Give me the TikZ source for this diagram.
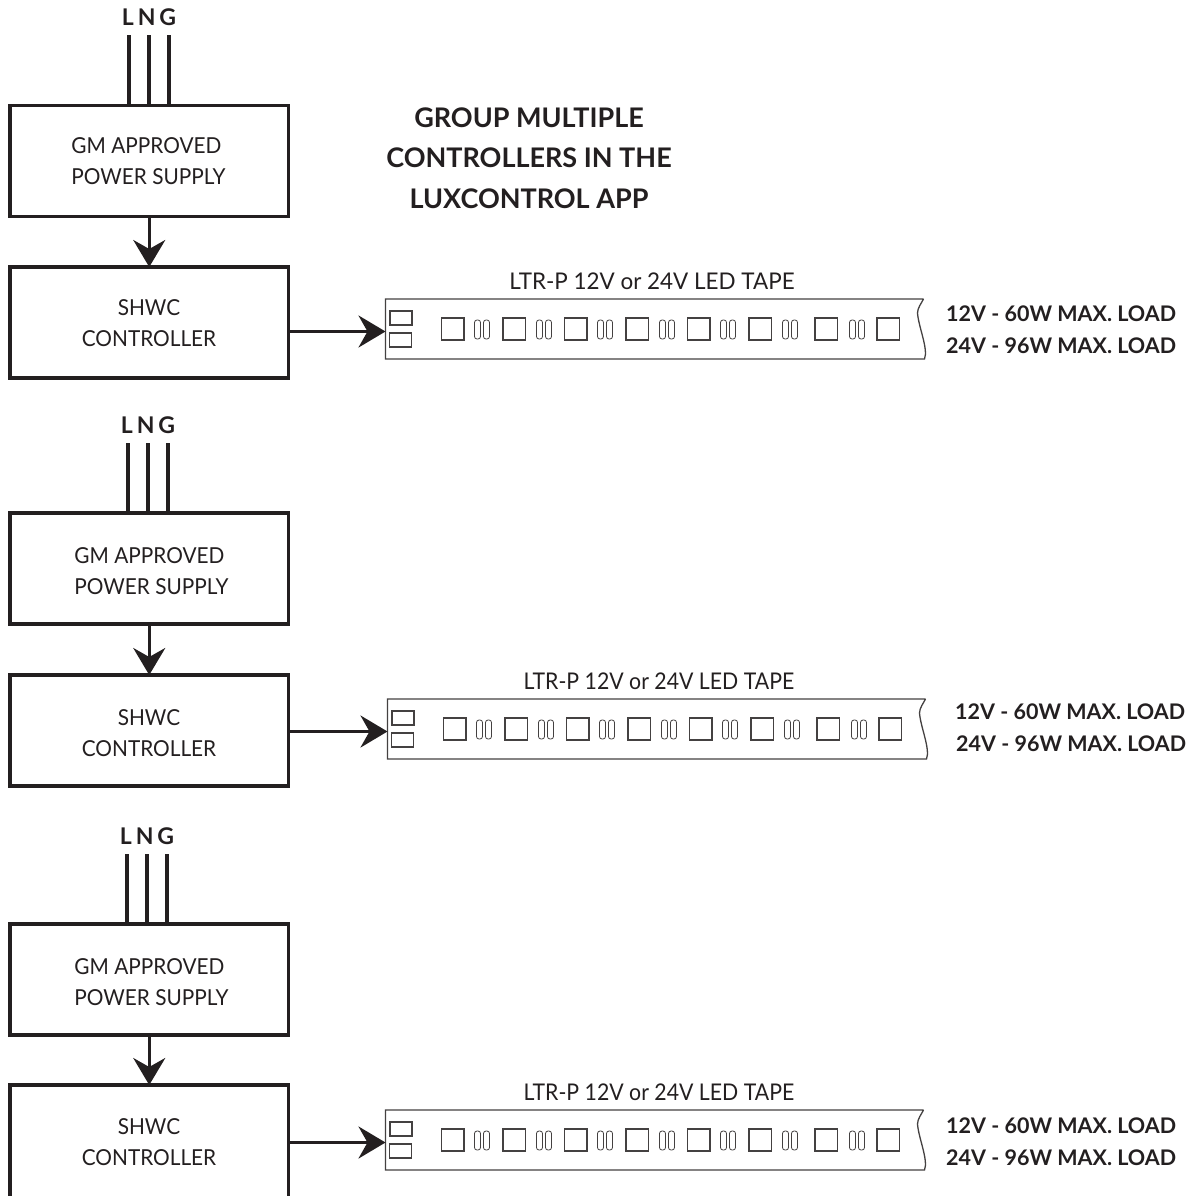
\documentclass[tikz,border=0pt]{standalone}
\usepackage{fontspec}
\setmainfont{Lato}
\newfontfamily\narrowfont[FakeStretch=0.945]{Lato}
\newfontfamily\titlefont[FakeStretch=0.975]{Lato}
\newfontfamily\slimtitlefont[FakeStretch=0.925]{Lato}
\usetikzlibrary{arrows.meta}
\definecolor{ink}{HTML}{231F20}
\tikzset{
  x=1pt,y=-1pt,
  blockbox/.style={draw=ink,line width=3.2pt,outer sep=0pt,minimum width=278.5pt,minimum height=111pt,inner sep=0pt,anchor=north west},
  blockframe/.style={outer sep=0pt,minimum width=278.5pt,minimum height=111pt,inner sep=0pt,anchor=north west},
  blocktext/.style={text=ink,font=\fontsize{22}{31.5}\selectfont\narrowfont,align=center,inner sep=0pt},
  supplytext/.style={text=ink,font=\fontsize{22}{31.5}\selectfont\narrowfont,align=left,inner sep=0pt},
  wire/.style={draw=ink,line width=3.2pt},
  feed/.style={draw=ink,line width=3.2pt,-{Stealth[length=27pt,width=32pt,inset=9pt]}},
  tapeline/.style={draw=ink!85,line width=1.3pt},
  led/.style={draw=ink!85,line width=1.1pt,outer sep=0pt,minimum width=22.5pt,minimum height=22pt,inner sep=0pt,anchor=north west},
  pad/.style={draw=ink!85,line width=1.1pt,outer sep=0pt,minimum width=22pt,minimum height=14pt,inner sep=0pt,anchor=north west},
  pill/.style={draw=ink!85,line width=.8pt,rounded corners=2.5pt},
  lngtext/.style={text=ink,font=\fontsize{23}{26}\selectfont\bfseries,inner sep=0pt},
  tapetitle/.style={text=ink,font=\fontsize{23}{26}\selectfont\titlefont,inner sep=0pt},
  slimtitle/.style={text=ink,font=\fontsize{23}{26}\selectfont\slimtitlefont,inner sep=0pt},
  loadtext/.style={text=ink,font=\fontsize{21.5}{26}\selectfont\bfseries,inner sep=0pt,anchor=west},
  headtext/.style={text=ink,font=\fontsize{27}{40.5}\selectfont\bfseries,align=center,inner sep=0pt},
}
% #1 name, #2 psu top, #3 wire shift, #4 text centre x, #5 text centre y
\newcommand{\supplyunit}[5]{%
  \node[blockbox] (#1psu) at (10,#2) {};
  \node[supplytext] (#1psut) at (#4,#5) {GM APPROVED\\POWER SUPPLY};
  \node[lngtext] (#1lng) at (149+#3,#2-88) {L\,N\,G};
  \coordinate (#1wl) at (129+#3,#2-70);
  \coordinate (#1wn) at (149+#3,#2-70);
  \coordinate (#1wg) at (169+#3,#2-70);
  \draw[wire] (#1wl) -- (#1wl |- #1psu.north);
  \draw[wire] (#1wn) -- (#1wn |- #1psu.north);
  \draw[wire] (#1wg) -- (#1wg |- #1psu.north);
}
% #1 name, #2 tape left, #3 tape top, #4 title x, #5 load x, #6 load y1, #7 load x2, #8 title style
\newcommand{\tapeunit}[8]{%
  \begin{scope}[shift={(#2,#3)}]
    \coordinate (#1in) at (0,32.5);
    \draw[tapeline] (538,0) -- (0,0) -- (0,60) -- (539,60)
      .. controls (543,50) and (533,28) .. (532,14) .. controls (532,9) and (536,4) .. (538,0);
    \node[pad] (#1pa) at (4.5,12) {};
    \node[pad] (#1pb) at (4,34) {};
    \foreach \i/\sx in {0/56,1/117.5,2/179,3/240.5,4/302,5/363.5,6/429.5,7/491.5}{
      \node[led] (#1led\i) at (\sx,19) {};
    }
    \foreach \px in {89,151,212,274,335,397,464}{
      \draw[pill] (\px,21) rectangle ++(6,19);
      \draw[pill] (\px+9,21) rectangle ++(6,19);
    }
  \end{scope}
  \node[#8] (#1title) at (#4,#3-18) {LTR-P 12V or 24V LED TAPE};
  \node[loadtext] (#1la) at (#5,#6+1) {12V - 60W MAX. LOAD};
  \node[loadtext] (#1lb) at (#7,#6+33) {24V - 96W MAX. LOAD};
}
\begin{document}
\begin{tikzpicture}
\useasboundingbox (0,0) rectangle (1195,1196);
\fill[white] (0,0) rectangle (1195,1196);
\node[headtext] (head) at (529,158) {GROUP MULTIPLE\\CONTROLLERS IN THE\\LUXCONTROL APP};

% first set
\supplyunit{a}{105.5}{0}{148.5}{161}
\node[blockbox] (actl) at (10,267) {};
\node[blocktext] (actlt) at (149,323) {SHWC\\CONTROLLER};
\draw[feed] (apsu.south) -- (actl.north);
\tapeunit{a}{385.5}{299}{652}{946}{313}{946}{tapetitle}
\coordinate (aout) at (actl.east |- ain);
\draw[feed] (aout) -- (ain);

% second set
\supplyunit{b}{513}{-1}{151.5}{571}
\node[blockbox] (bctl) at (10,675) {};
\node[blocktext] (bctlt) at (149,733) {SHWC\\CONTROLLER};
\draw[feed] (bpsu.south) -- (bctl.north);
\tapeunit{b}{387.5}{699}{659}{955}{711}{956}{slimtitle}
\coordinate (bout) at (bctl.east |- bin);
\draw[feed] (bout) -- (bin);

% third set
\supplyunit{c}{924}{-2}{151.5}{982}
\node[blockframe] (cctl) at (10,1085) {};
\draw[wire] (cctl.north west |- 0,1197) -- (cctl.north west) -- (cctl.north east) -- (cctl.north east |- 0,1197);
\node[blocktext] (cctlt) at (149,1142) {SHWC\\CONTROLLER};
\draw[feed] (cpsu.south) -- (cctl.north);
\tapeunit{c}{385.5}{1110}{659}{946}{1125}{946}{slimtitle}
\coordinate (cout) at (cctl.east |- cin);
\draw[feed] (cout) -- (cin);
\end{tikzpicture}
\end{document}
